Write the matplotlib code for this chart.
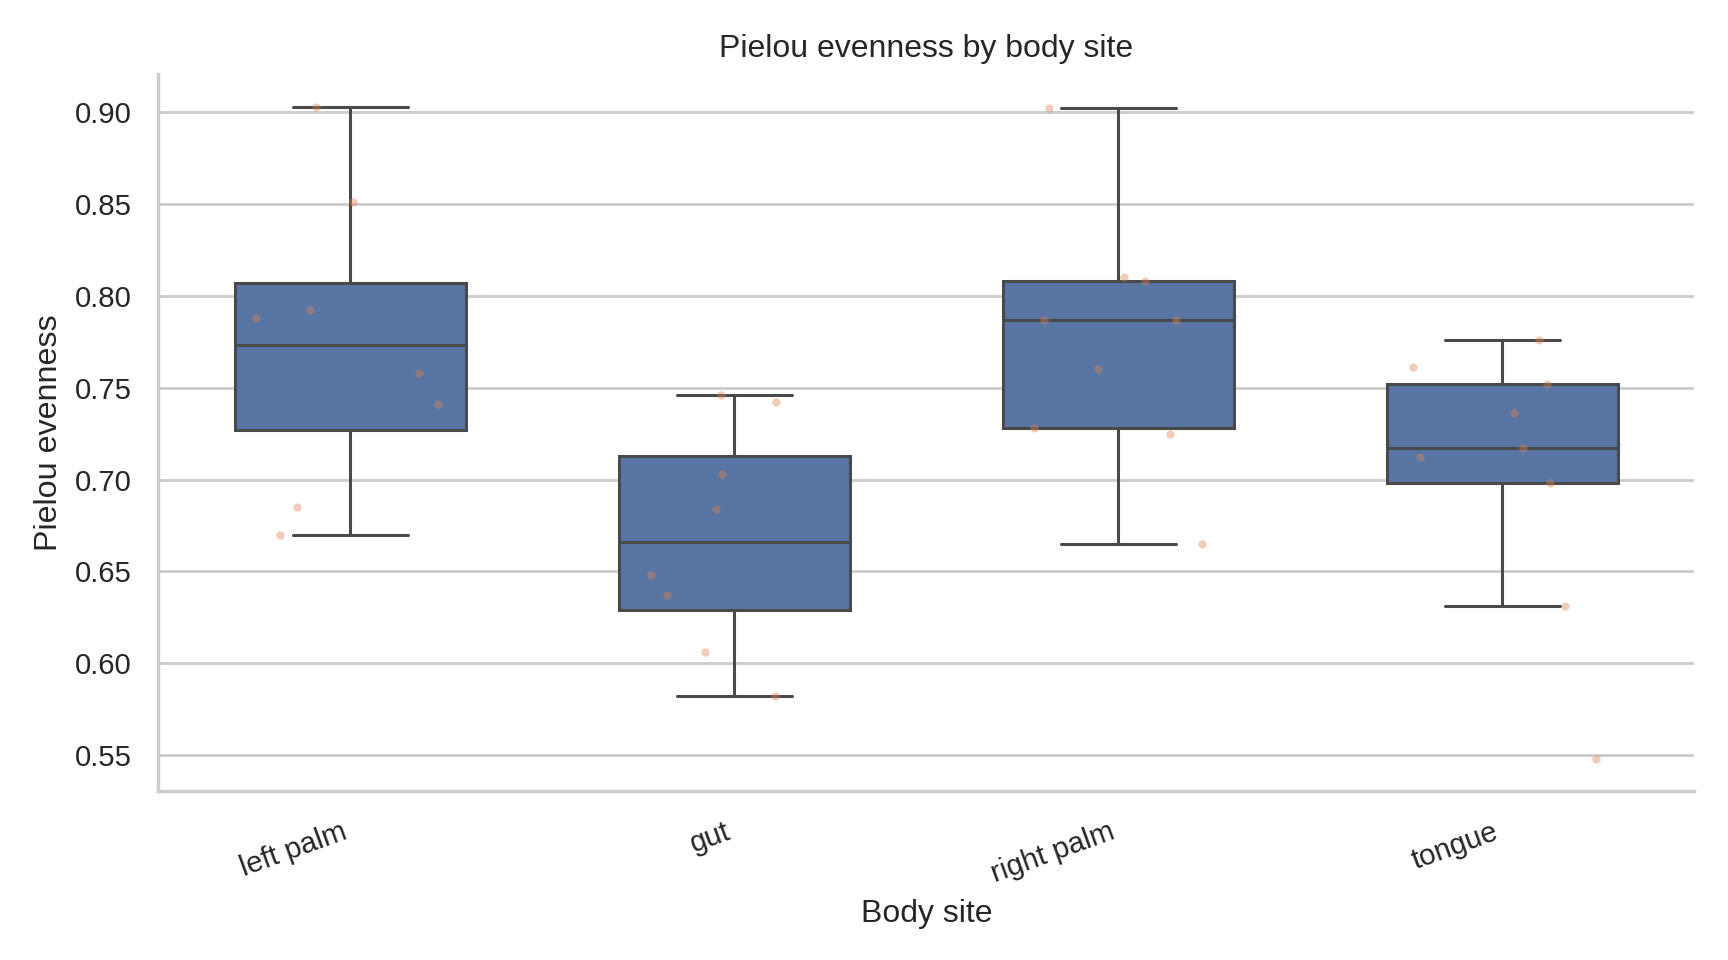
import numpy as np
import pandas as pd
import matplotlib
matplotlib.use("Agg")
import matplotlib.pyplot as plt
import seaborn as sns

# Pielou evenness per sample, grouped by body site
sites = ["left palm", "gut", "right palm", "tongue"]
left_palm = [0.903, 0.851, 0.788, 0.792, 0.758, 0.741, 0.685, 0.670]
gut = [0.746, 0.742, 0.703, 0.684, 0.648, 0.637, 0.606, 0.582]
right_palm = [0.902, 0.810, 0.808, 0.787, 0.787, 0.760, 0.728, 0.725, 0.665]
tongue = [0.761, 0.776, 0.752, 0.736, 0.712, 0.717, 0.698, 0.631, 0.548]

# horizontal jitter of each point as it appears in the chart
jitter_left_palm = [-0.089, 0.006, -0.246, -0.106, 0.180, 0.229, -0.140, -0.183]
jitter_gut = [-0.034, 0.109, -0.032, -0.049, -0.218, -0.175, -0.077, 0.106]
jitter_right_palm = [-0.181, 0.014, 0.069, -0.195, 0.149, -0.052, -0.221, 0.135, 0.218]
jitter_tongue = [-0.232, 0.095, 0.115, 0.029, -0.215, 0.054, 0.123, 0.163, 0.244]

values = [left_palm, gut, right_palm, tongue]
jitters = [jitter_left_palm, jitter_gut, jitter_right_palm, jitter_tongue]

rows = []
for site, vals in zip(sites, values):
    for v in vals:
        rows.append({"body_site": site, "pielou": v})
df = pd.DataFrame(rows)

sns.set_theme(style="whitegrid")
plt.rcParams["font.family"] = ["Liberation Sans", "DejaVu Sans"]

fig, ax = plt.subplots(figsize=(8.64, 4.8), dpi=200)
fig.subplots_adjust(left=0.0916, right=0.9806, top=0.923, bottom=0.1756)

sns.boxplot(data=df, x="body_site", y="pielou", order=sites, color="#4c72b0",
            width=0.6, showfliers=False, linewidth=1.1, linecolor="#4a4a4a", ax=ax)

for i, (vals, jit) in enumerate(zip(values, jitters)):
    ax.scatter(i + np.array(jit), vals, s=9, color="#dd8452", alpha=0.4,
               linewidth=0, zorder=3)
ax.set_xlim(-0.5, len(sites) - 0.5)

ax.set_title("Pielou evenness by body site", fontsize=11.5)
ax.set_xlabel("Body site", fontsize=11.5)
ax.set_ylabel("Pielou evenness", fontsize=11.6)
ax.tick_params(axis="both", labelsize=10.6)
plt.setp(ax.get_xticklabels(), rotation=20, ha="right")
ax.yaxis.set_major_formatter(matplotlib.ticker.FormatStrFormatter("%.2f"))
ax.xaxis.grid(False)
sns.despine(ax=ax)

fig.savefig("out.png", dpi=200)
